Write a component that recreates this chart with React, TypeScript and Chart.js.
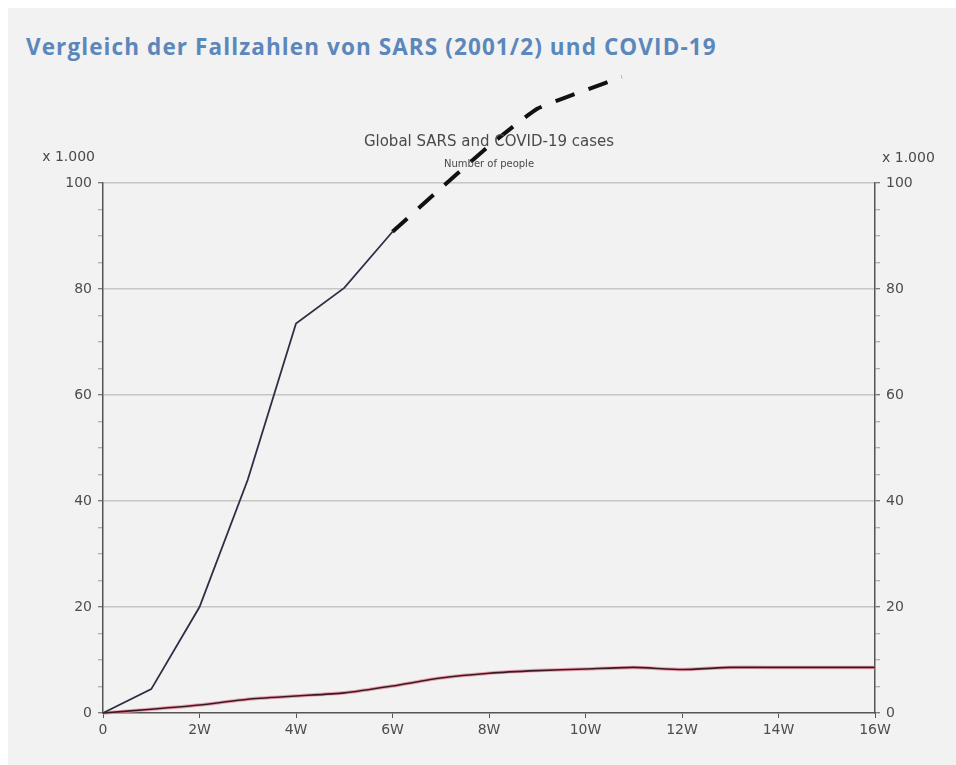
import React, { useEffect, useRef } from "react";
import { Chart, registerables } from "chart.js";

Chart.register(...registerables);

const PAGE_TITLE = "Vergleich der Fallzahlen von SARS (2001/2) und COVID-19";
const CHART_TITLE = "Global SARS and COVID-19 cases";
const CHART_SUBTITLE = "Number of people";
const UNIT_LABEL = "x 1.000";

// weeks since start
const sarsWeeks = [0, 1, 2, 3, 4, 5, 6, 7, 8, 9, 10, 11, 12, 13, 14, 15, 16];
// thousands of cases
const sarsCases = [0, 0.7, 1.5, 2.6, 3.2, 3.8, 5.1, 6.6, 7.5, 8.0, 8.3, 8.6, 8.2, 8.6, 8.6, 8.6, 8.6];

const covidWeeks = [0, 1, 2, 3, 4, 5, 6];
const covidCases = [0, 4.5, 20, 44, 73.5, 80.2, 90.8];

const covidProjWeeks = [6, 7, 8, 9, 10, 10.75];
const covidProjCases = [90.8, 99, 107, 114, 117.5, 120];

const xMin = 0;
const xMax = 16;
const xStep = 2;
const yMin = 0;
const yMax = 100;
const yMajorStep = 20;
const yMinorStep = 5;

const TICK_FONT = { family: "'DejaVu Sans', Verdana, sans-serif", size: 14 };
const TICK_COLOR = "#4d4d4d";

const toPoints = (xs: number[], ys: number[]) => xs.map((x, i) => ({ x, y: ys[i] }));

const overlayText = {
  id: "overlayText",
  afterDraw(chart: any) {
    const { ctx, chartArea } = chart;
    const cx = (chartArea.left + chartArea.right) / 2;
    ctx.save();
    ctx.fillStyle = "#4a4a4a";
    ctx.textBaseline = "middle";
    ctx.textAlign = "center";
    ctx.font = "15px 'DejaVu Sans', sans-serif";
    ctx.fillText(CHART_TITLE, cx, chartArea.top - 41);
    ctx.font = "10px 'DejaVu Sans', sans-serif";
    ctx.fillText(CHART_SUBTITLE, cx, chartArea.top - 19);
    ctx.font = "14px 'DejaVu Sans', sans-serif";
    ctx.textAlign = "right";
    ctx.fillText(UNIT_LABEL, chartArea.left - 8, chartArea.top - 26);
    ctx.textAlign = "left";
    ctx.fillText(UNIT_LABEL, chartArea.right + 7, chartArea.top - 25);
    ctx.restore();
  },
};

function yScale(position: "left" | "right", drawGrid: boolean) {
  return {
    type: "linear" as const,
    position,
    min: yMin,
    max: yMax,
    ticks: {
      stepSize: yMinorStep,
      autoSkip: false,
      padding: 6,
      color: TICK_COLOR,
      font: TICK_FONT,
      callback: (v: any) => (Number(v) % yMajorStep === 0 ? String(v) : ""),
    },
    grid: {
      drawOnChartArea: drawGrid,
      color: (c: any) =>
        c.tick && c.tick.value % yMajorStep === 0 && c.tick.value !== 0 ? "#c6c6c6" : "rgba(0,0,0,0)",
      lineWidth: 1.5,
      tickLength: 5,
      tickColor: (c: any) =>
        c.tick && c.tick.value % yMajorStep === 0 ? "#555" : "#9a9a9a",
      tickWidth: 1,
    },
    border: { display: true, color: "#555", width: 1.5 },
    afterFit: (s: any) => {
      s.width = 50;
    },
  };
}

export default function App() {
  const canvasRef = useRef<HTMLCanvasElement | null>(null);

  useEffect(() => {
    document.documentElement.style.overflow = "hidden";
    const canvas = canvasRef.current;
    if (!canvas) return;
    const chart = new Chart(canvas, {
      type: "line",
      data: {
        datasets: [
          {
            label: "SARS glow",
            data: toPoints(sarsWeeks, sarsCases),
            borderColor: "rgba(232,140,160,0.8)",
            borderWidth: 3.5,
            pointRadius: 0,
            tension: 0.2,
            order: 4,
            clip: false as any,
          },
          {
            label: "SARS",
            data: toPoints(sarsWeeks, sarsCases),
            borderColor: "#3a1a20",
            borderWidth: 1.6,
            pointRadius: 0,
            tension: 0.2,
            order: 3,
            clip: false as any,
          },
          {
            label: "COVID-19",
            data: toPoints(covidWeeks, covidCases),
            borderColor: "#2c3045",
            borderWidth: 1.8,
            pointRadius: 0,
            tension: 0,
            order: 2,
            clip: false as any,
          },
          {
            label: "COVID-19 (Projektion)",
            data: toPoints(covidProjWeeks, covidProjCases),
            borderColor: "#111",
            borderWidth: 4,
            borderDash: [20, 15],
            pointRadius: 0,
            tension: 0.15,
            order: 1,
            clip: false as any,
          },
        ],
      },
      options: {
        animation: false,
        responsive: false,
        maintainAspectRatio: false,
        layout: { padding: { left: 45, right: 31, top: 175, bottom: 22 } },
        plugins: {
          legend: { display: false },
          title: { display: false },
          tooltip: { enabled: false },
        },
        scales: {
          x: {
            type: "linear",
            min: xMin,
            max: xMax,
            ticks: {
              stepSize: xStep,
              autoSkip: false,
              maxRotation: 0,
              padding: 4,
              color: TICK_COLOR,
              font: TICK_FONT,
              callback: (v: any) => (Number(v) === 0 ? "0" : `${v}W`),
            },
            grid: {
              drawOnChartArea: false,
              tickLength: 5,
              tickColor: "#555",
              tickWidth: 1,
            },
            border: { display: true, color: "#555", width: 1.5 },
            afterFit: (s: any) => {
              s.height = 30;
            },
          },
          y: yScale("left", true) as any,
          y2: yScale("right", false) as any,
        },
      },
      plugins: [overlayText],
    });
    return () => chart.destroy();
  }, []);

  return (
    <div
      style={{
        position: "fixed",
        left: 8,
        top: 8,
        right: 0,
        bottom: 0,
        minWidth: 948,
        minHeight: 757,
        background: "#f2f2f2",
        overflow: "hidden",
      }}
    >
      <div
        style={{
          position: "absolute",
          left: 18,
          top: 28,
          fontFamily: "'Open Sans', sans-serif",
          fontWeight: 700,
          fontSize: 22.5,
          letterSpacing: 1.1,
          lineHeight: 1,
          color: "#5b87bb",
          whiteSpace: "nowrap",
        }}
      >
        {PAGE_TITLE}
      </div>
      <canvas
        ref={canvasRef}
        width={948}
        height={757}
        style={{ position: "absolute", left: 0, top: 0, width: 948, height: 757 }}
      />
    </div>
  );
}
